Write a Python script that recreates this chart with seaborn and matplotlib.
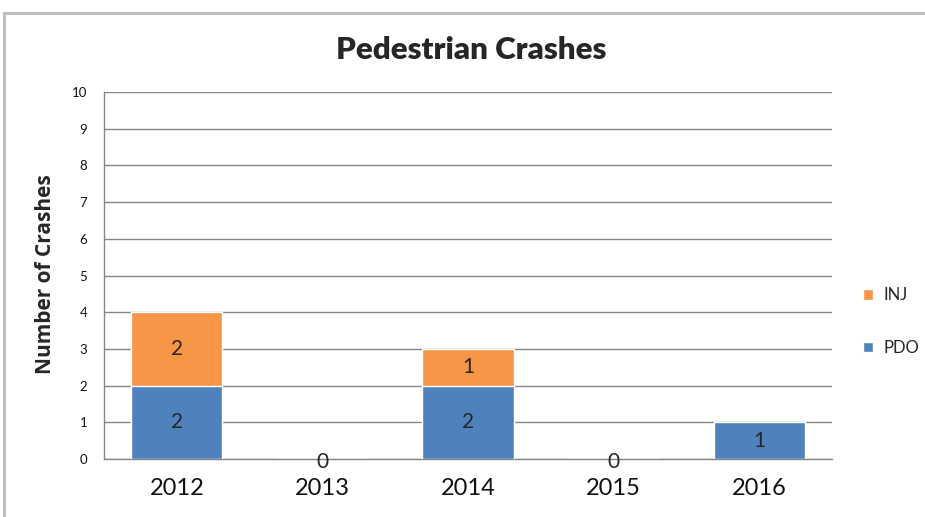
import matplotlib
matplotlib.use('Agg')
import matplotlib.pyplot as plt
from matplotlib.patches import Rectangle, Patch
import seaborn as sns
import pandas as pd

# data
years = ['2012', '2013', '2014', '2015', '2016']
pdo = [2, 0, 2, 0, 1]
inj = [2, 0, 1, 0, 0]

blue = '#4F81BD'
orange = '#F79646'

sns.set_style('white')
plt.rcParams['font.family'] = ['Lato', 'DejaVu Sans']

df = pd.DataFrame({'year': years, 'PDO': pdo, 'INJ': inj})
df['total'] = df['PDO'] + df['INJ']

fig = plt.figure(figsize=(9.25, 5.17), dpi=100)
ax = fig.add_axes([0.1124, 0.1122, 0.7871, 0.7098])

# stacked: draw totals in orange, then PDO on top in blue
sns.barplot(data=df, x='year', y='total', color=orange, width=0.625,
            saturation=1, edgecolor='white', linewidth=1, ax=ax, zorder=3)
sns.barplot(data=df, x='year', y='PDO', color=blue, width=0.625,
            saturation=1, edgecolor='white', linewidth=1, ax=ax, zorder=4)

ax.set_ylim(0, 10)
ax.set_xlim(-0.5, 4.5)
ax.set_yticks(range(0, 11))
ax.yaxis.grid(True, color='#868686', linewidth=1)
ax.set_axisbelow(True)
for s in ['top', 'right']:
    ax.spines[s].set_visible(False)
for s in ['left', 'bottom']:
    ax.spines[s].set_color('#868686')
    ax.spines[s].set_linewidth(1)
ax.tick_params(axis='y', labelsize=9.5, length=0, pad=12, labelcolor='#111111')
ax.tick_params(axis='x', labelsize=17, length=0, pad=14, labelcolor='#111111')
ax.set_xlabel('')
ax.set_ylabel('Number of Crashes', fontsize=15, fontweight='bold',
              family=['Open Sans', 'DejaVu Sans'])
ax.yaxis.set_label_coords(-0.066, 0.504)
fig.text(0.509, 0.886, 'Pedestrian Crashes', ha='center', va='baseline',
         fontsize=22.5, fontweight='heavy')

# value labels
for i in range(len(years)):
    if pdo[i] + inj[i] == 0:
        ax.annotate('0', (i, 0), xytext=(0, -2), textcoords='offset points',
                    ha='center', va='center', fontsize=15, zorder=5)
        continue
    if pdo[i] > 0:
        ax.text(i, pdo[i] / 2, str(pdo[i]), ha='center', va='center', fontsize=15, zorder=5)
    if inj[i] > 0:
        ax.text(i, pdo[i] + inj[i] / 2, str(inj[i]), ha='center', va='center', fontsize=15, zorder=5)

handles = [Patch(facecolor=orange, label='INJ'), Patch(facecolor=blue, label='PDO')]
fig.legend(handles=handles, loc='center left', bbox_to_anchor=(0.917, 0.378),
           frameon=False, fontsize=12, handlelength=0.6, handleheight=0.6,
           handletextpad=0.6, labelspacing=2.2)

# outer chart border
fig.add_artist(Rectangle((0.0043, -0.1), 1.2, 0.1 + 0.9758, transform=fig.transFigure,
                         fill=False, edgecolor='#BFBFBF', linewidth=2.2))

fig.savefig('out.png', dpi=100)
